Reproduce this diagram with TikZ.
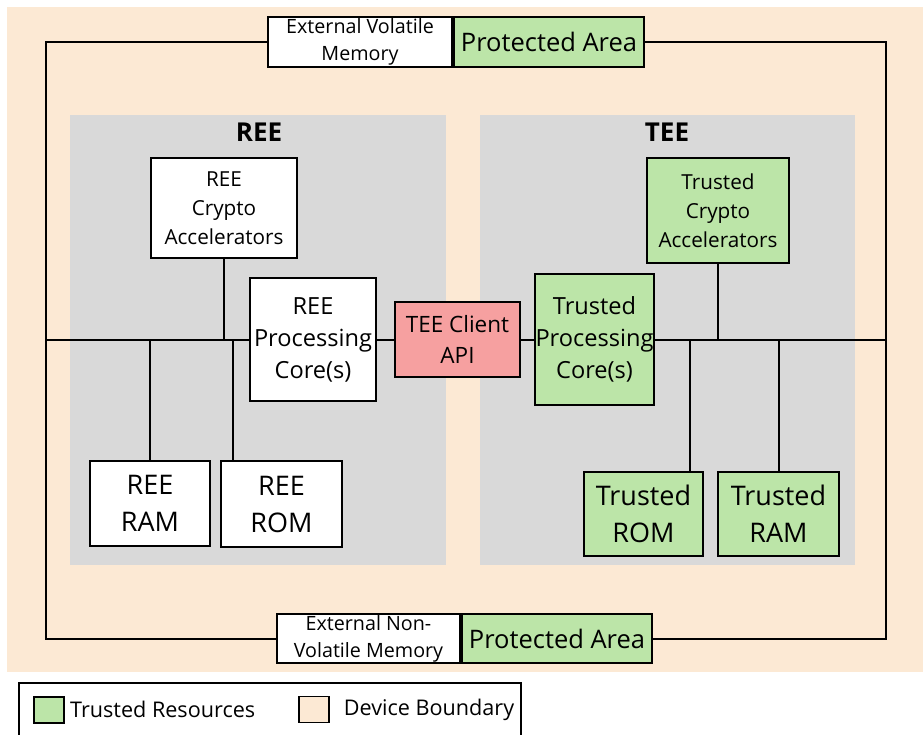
\documentclass[tikz,border=0pt]{standalone}
\usepackage{fontspec}
\setmainfont{Open Sans}
\usetikzlibrary{positioning, calc}

\definecolor{devpeach}{RGB}{252,233,212}
\definecolor{envgray}{RGB}{217,217,217}
\definecolor{trustgreen}{RGB}{188,229,168}
\definecolor{apired}{RGB}{246,160,160}

\begin{document}
\begin{tikzpicture}[x=1pt, y=-1pt,
        box/.style={rectangle, draw=black, line width=2pt, align=center, inner sep=0pt, fill=white},
        tbox/.style={box, fill=trustgreen},
        small/.style={font=\fontsize{19.7}{27}\selectfont},
        mid/.style={font=\fontsize{20.7}{29}\selectfont},
        big/.style={font=\fontsize{23.6}{32}\selectfont},
        huge/.style={font=\fontsize{27}{37}\selectfont},
        prot/.style={font=\fontsize{25.5}{30}\selectfont},
        wire/.style={line width=2pt},
        panel/.style={fill=envgray, draw=none},
        title/.style={font=\fontsize{26}{28}\selectfont\bfseries}
    ]
        \useasboundingbox (0,0) rectangle (923,734);
        % Device boundary and environments
        \fill[devpeach] (7,7) rectangle (923,672);
        \fill[panel] (70,115) rectangle (446,565);
        \fill[panel] (480,115) rectangle (855,565);
        \node[title] (reetitle) at (259,132) {REE};
        \node[title] (teetitle) at (667,132) {TEE};

        % External memories
        \node[box, small, minimum width=184pt, minimum height=50pt] (vmem) at (360,42) {External Volatile\\Memory};
        \node[tbox, prot, minimum width=190pt, minimum height=50pt, right=0pt of vmem] (vprot) {Protected Area};
        \node[box, small, minimum width=183pt, minimum height=49pt] (nvmem) at (368.5,638.5) {External Non-\\Volatile Memory};
        \node[tbox, prot, minimum width=190pt, minimum height=49pt, right=0pt of nvmem] (nvprot) {Protected Area};

        % REE side
        \node[box, mid, minimum width=146pt, minimum height=100pt] (reecrypto) at (224,208) {REE\\Crypto\\Accelerators};
        \node[box, big, minimum width=126pt, minimum height=123pt] (reeproc) at (313,339.5) {REE\\Processing\\Core(s)};
        \node[box, huge, minimum width=120pt, minimum height=85pt] (reeram) at (150,503.5) {REE\\RAM};
        \node[box, huge, minimum width=121pt, minimum height=86pt] (reerom) at (281.5,504) {REE\\ROM};

        % Client API
        \node[box, fill=apired, font=\fontsize{22.5}{31}\selectfont, minimum width=125pt, minimum height=75pt] (api) at (457.5,339.5) {TEE Client\\API};

        % TEE side
        \node[tbox, big, minimum width=119pt, minimum height=131pt] (teeproc) at (594.5,339.5) {Trusted\\Processing\\Core(s)};
        \node[tbox, mid, minimum width=142pt, minimum height=105pt] (teecrypto) at (718,210.5) {Trusted\\Crypto\\Accelerators};
        \node[tbox, huge, minimum width=119pt, minimum height=84pt] (teerom) at (643.5,514) {Trusted\\ROM};
        \node[tbox, huge, minimum width=121pt, minimum height=84pt] (teeram) at (778.5,514) {Trusted\\RAM};

        % Loop and bus corners
        \coordinate (tl) at (46,42);
        \coordinate (tr) at (886,42);
        \coordinate (bl) at (46,638.5);
        \coordinate (br) at (886,638.5);
        \coordinate (busl) at (46,339.5);
        \coordinate (busr) at (886,339.5);

        % Connectors
        \draw[wire] (vmem.west) -- (tl) -- (bl) -- (nvmem.west);
        \draw[wire] (vprot.east) -- (tr) -- (br) -- (nvprot.east);
        \draw[wire] (busl) -- (reeproc.west);
        \draw[wire] (reeproc.east) -- (api.west);
        \draw[wire] (api.east) -- (teeproc.west);
        \draw[wire] (teeproc.east) -- (busr);
        \draw[wire] (reecrypto.south) -- (reecrypto.south |- busl);
        \draw[wire] (reeram.north) -- (reeram.north |- busl);
        \draw[wire] ([xshift=-48.5pt]reerom.north) -- ([xshift=-48.5pt]reerom.north |- busl);
        \draw[wire] (teecrypto.south) -- (teecrypto.south |- busr);
        \draw[wire] ([xshift=46.5pt]teerom.north) -- ([xshift=46.5pt]teerom.north |- busr);
        \draw[wire] (teeram.north) -- (teeram.north |- busr);

        % Legend
        \draw[wire] (19,683) rectangle (521,745);
        \node[tbox, minimum width=30pt, minimum height=26pt] (leggreen) at (49,709.5) {};
        \node[font=\fontsize{21.6}{24}\selectfont, anchor=west, inner sep=0pt, right=5pt of leggreen] (legtrust) {Trusted Resources};
        \node[box, fill=devpeach, line width=1.5pt, minimum width=30pt, minimum height=26pt] (legpeach) at (314,709.5) {};
        \node[font=\fontsize{21.6}{24}\selectfont, anchor=west, inner sep=0pt, right=14pt of legpeach] (legdevice) {Device Boundary};
    \end{tikzpicture}
\end{document}
